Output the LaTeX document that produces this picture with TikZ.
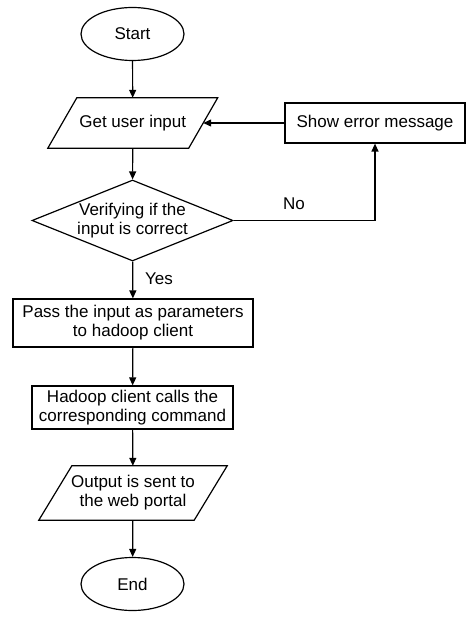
\documentclass[tikz,border=0pt]{standalone}
\usepackage{fontspec}
\setmainfont{Liberation Sans}
\usetikzlibrary{shapes.geometric,arrows.meta}
\begin{document}
\begin{tikzpicture}[x=1pt,y=-1pt,
 every node/.style={font=\fontsize{17}{19}\selectfont, inner sep=0pt},
 shp/.style={draw, line width=1.2pt},
 term/.style={shp, ellipse, minimum width=103pt, minimum height=53pt},
 io/.style={rectangle, align=center},
 iobox/.style={line width=1.2pt},
 proc/.style={shp, rectangle, align=center},
 dec/.style={shp, diamond, shape aspect=2.5, minimum width=201pt, minimum height=81pt, align=center},
 arr/.style={-{Triangle[length=8pt,width=7pt]}, line width=1.2pt}]
\useasboundingbox (0,0) rectangle (474,617);
\node[term] (start) at (132.5,34) {Start};
\node[io, minimum width=140.5pt, minimum height=50pt] (input) at (132.75,123) {Get user input};
\draw[iobox] ([xshift=14.5pt]input.north west) -- ([xshift=14.5pt]input.north east) -- ([xshift=-14.5pt]input.south east) -- ([xshift=-14.5pt]input.south west) -- cycle;
\node[proc, minimum width=180pt, minimum height=40pt] (err) at (375,123) {Show error message};
\node[dec] (check) at (132.5,220.5) {Verifying if the\\input is correct};
\node[proc, minimum width=240pt, minimum height=48pt] (pass) at (133,323) {Pass the input as parameters\\to hadoop client};
\node[proc, minimum width=201pt, minimum height=43pt] (hadoop) at (132.5,407.5) {Hadoop client calls the\\corresponding command};
\node[io, minimum width=155pt, minimum height=54pt] (out) at (133,493) {Output is sent to\\the web portal};
\draw[iobox] ([xshift=16.5pt]out.north west) -- ([xshift=16.5pt]out.north east) -- ([xshift=-16.5pt]out.south east) -- ([xshift=-16.5pt]out.south west) -- cycle;
\node[term] (end) at (132.5,584) {End};
\node (no) at (294,204) {No};
\node (yes) at (159,279) {Yes};
\draw[arr] (start) -- (input);
\draw[arr] (input) -- (check);
\draw[arr] (check.east) -| (err.south);
\draw[arr] (err.west) -- (input.east);
\draw[arr] (check) -- (pass);
\draw[arr] (pass) -- (hadoop);
\draw[arr] (hadoop) -- (out);
\draw[arr] (out) -- (end);
\end{tikzpicture}
\end{document}
